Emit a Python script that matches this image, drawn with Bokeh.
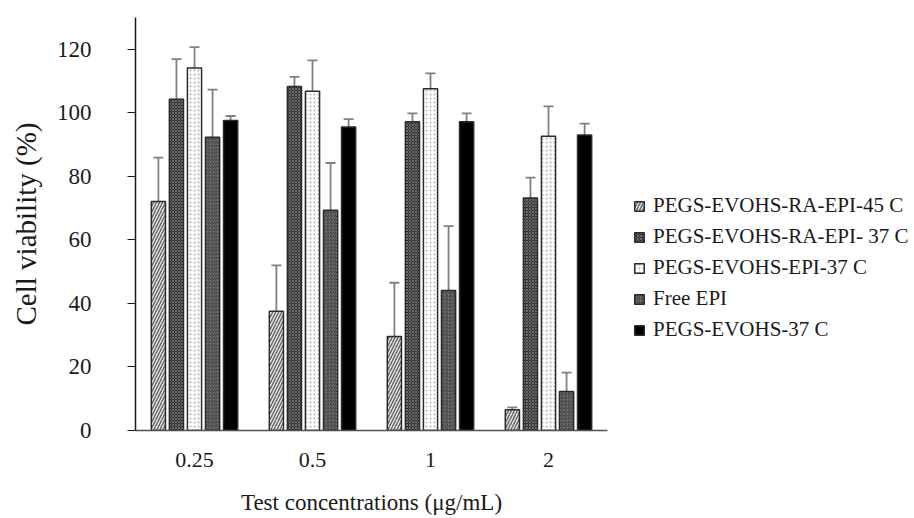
from bokeh.plotting import figure
from bokeh.models import (ColumnDataSource, FactorRange, Range1d, Whisker, TeeHead,
                          Legend, LegendItem, FixedTicker)
from bokeh.transform import dodge
from bokeh.embed import file_html
from bokeh.resources import INLINE

# ---- data ----
concentrations = ["0.25", "0.5", "1", "2"]
series_names = ["PEGS-EVOHS-RA-EPI-45 C", "PEGS-EVOHS-RA-EPI- 37 C",
                "PEGS-EVOHS-EPI-37 C", "Free EPI", "PEGS-EVOHS-37 C"]
v_ra45 = [72.1, 37.5, 29.6, 6.5]
e_ra45 = [13.8, 14.5, 16.9, 0.8]
v_ra37 = [104.3, 108.3, 97.2, 73.2]
e_ra37 = [12.6, 3.0, 2.6, 6.4]
v_epi37 = [114.1, 106.8, 107.6, 92.6]
e_epi37 = [6.6, 9.7, 4.8, 9.4]
v_free = [92.3, 69.3, 44.1, 12.3]
e_free = [15.0, 14.9, 20.2, 5.9]
v_pegs37 = [97.6, 95.5, 97.2, 93.0]
e_pegs37 = [1.4, 2.5, 2.6, 3.6]
y_ticks = [0, 20, 40, 60, 80, 100, 120]

values = [v_ra45, v_ra37, v_epi37, v_free, v_pegs37]
errors = [e_ra45, e_ra37, e_epi37, e_free, e_pegs37]

styles = [
    dict(fill_color="#f2f2f2", hatch_pattern="right_diagonal_line", hatch_color="#6a6a6a",
         hatch_scale=6, hatch_weight=1.6),
    dict(fill_color="#2c2c2c", hatch_pattern="diagonal_cross", hatch_color="#6e6e6e",
         hatch_scale=3, hatch_weight=1),
    dict(fill_color="#ffffff", hatch_pattern="dot", hatch_color="#b0b0b0",
         hatch_scale=4, hatch_weight=1),
    dict(fill_color="#8a8a8a", hatch_pattern="right_diagonal_line", hatch_color="#333333",
         hatch_scale=3.5, hatch_weight=1),
    dict(fill_color="#000000"),
]
offsets = [-0.306, -0.153, 0.0, 0.153, 0.306]

FONT = "Liberation Serif"

p = figure(x_range=FactorRange(*concentrations, range_padding=0),
           y_range=Range1d(0, 130),
           frame_width=472, frame_height=413, output_backend="svg", toolbar_location=None,
           min_border_left=135, min_border_top=17, min_border_bottom=88, min_border_right=0)
p.outline_line_color = None
p.xgrid.grid_line_color = None
p.ygrid.grid_line_color = None

items = []
for name, vals, errs, st, off in zip(series_names, values, errors, styles, offsets):
    src = ColumnDataSource(dict(x=concentrations, top=vals))
    r = p.vbar(x=dodge("x", off, range=p.x_range), top="top", width=0.12, source=src,
               line_color="#2a2a2a", line_width=1.5, **st)
    items.append(LegendItem(label=name, renderers=[r]))

for vals, errs, off in zip(values, errors, offsets):
    src = ColumnDataSource(dict(x=concentrations,
                                upper=[v + e for v, e in zip(vals, errs)],
                                lower=[v - e for v, e in zip(vals, errs)]))
    w = Whisker(base=dodge("x", off, range=p.x_range), upper="upper", lower="lower",
                source=src, line_color="#808080", line_width=1.8,
                upper_head=TeeHead(size=10, line_color="#808080", line_width=1.8),
                lower_head=TeeHead(size=10, line_color="#808080", line_width=1.8))
    p.add_layout(w)

# axes
p.yaxis.ticker = FixedTicker(ticks=y_ticks)
p.yaxis.minor_tick_line_color = None
p.yaxis.major_tick_out = 8
p.yaxis.major_tick_in = 0
p.yaxis.axis_line_color = "#1a1a1a"
p.yaxis.axis_line_width = 1.5
p.yaxis.major_tick_line_color = "#1a1a1a"
p.yaxis.major_tick_line_width = 1.2
p.yaxis.major_label_standoff = 36
p.yaxis.major_label_text_font = FONT
p.yaxis.major_label_text_font_size = "23px"
p.yaxis.major_label_text_color = "#1a1a1a"
p.yaxis.axis_label = "Cell viability (%)"
p.yaxis.axis_label_text_font = FONT
p.yaxis.axis_label_text_font_size = "29px"
p.yaxis.axis_label_text_font_style = "normal"
p.yaxis.axis_label_text_color = "#1a1a1a"
p.yaxis.axis_label_standoff = 12

p.xaxis.major_tick_line_color = None
p.xaxis.minor_tick_line_color = None
p.xaxis.axis_line_color = "#505050"
p.xaxis.axis_line_width = 1.5
p.xaxis.major_label_standoff = 16
p.xaxis.major_label_text_font = FONT
p.xaxis.major_label_text_font_size = "22px"
p.xaxis.major_label_text_color = "#1a1a1a"
p.xaxis.axis_label = "Test concentrations (\u03bcg/mL)"
p.xaxis.axis_label_text_font = FONT
p.xaxis.axis_label_text_font_size = "23px"
p.xaxis.axis_label_text_font_style = "normal"
p.xaxis.axis_label_text_color = "#1a1a1a"
p.xaxis.axis_label_standoff = 20

legend = Legend(items=items, location=(26, 88), orientation="vertical",
                label_text_font=FONT, label_text_font_size="21px", label_text_color="#1a1a1a",
                glyph_width=12, glyph_height=12, label_standoff=8, spacing=6,
                padding=10, margin=0, border_line_color=None, background_fill_alpha=0)
p.add_layout(legend, "right")

open("out.html", "w").write(file_html(p, INLINE))
